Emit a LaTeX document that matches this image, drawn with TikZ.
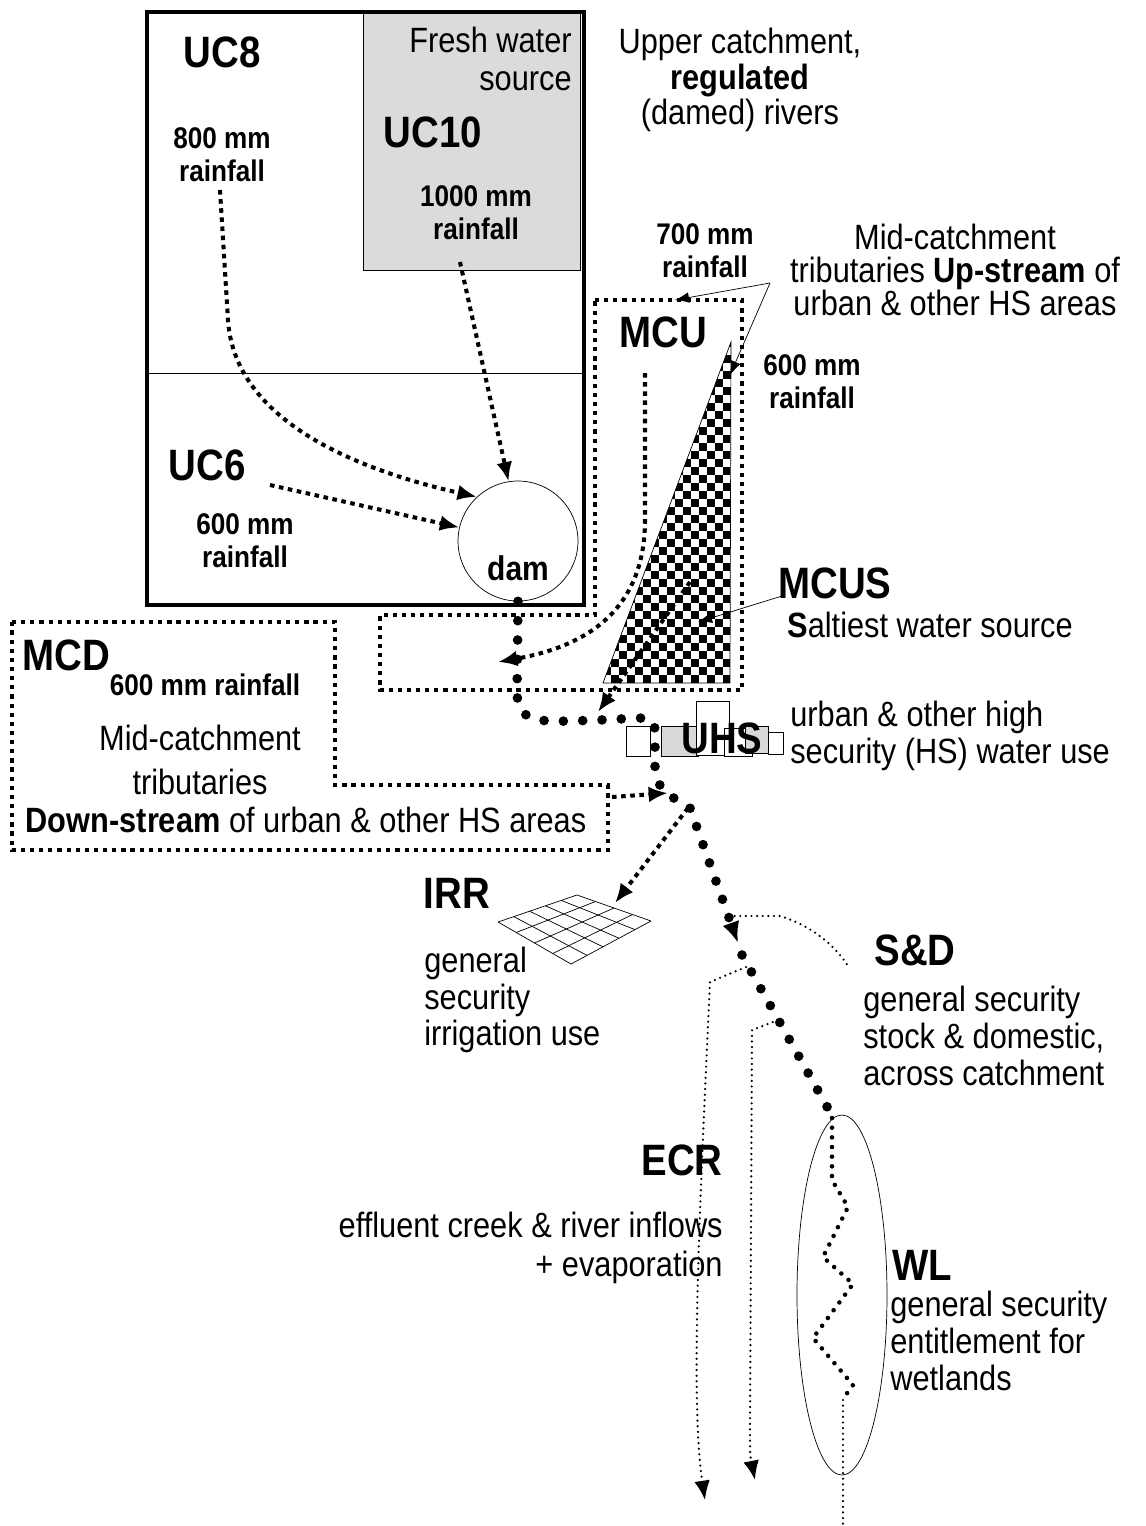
\documentclass[tikz,border=0pt]{standalone}
\usepackage{fontspec}
\setmainfont[FakeStretch=0.875]{Liberation Sans}
\usetikzlibrary{arrows.meta,calc}

\begin{document}
\begin{tikzpicture}[x=0.02cm,y=-0.02cm,
    note/.style={inner sep=0pt, font=\fontsize{20}{21}\selectfont},
    tag/.style={inner sep=0pt, font=\fontsize{25}{28}\selectfont\bfseries},
    rain/.style={inner sep=0pt, align=center, font=\fontsize{17}{19}\selectfont\bfseries},
    flow/.style={line width=2.3pt, dash pattern=on 2.6pt off 2.6pt, -{Latex[length=11pt,width=9pt]}},
    area/.style={line width=2.3pt, dash pattern=on 2.4pt off 2.8pt},
    river/.style={line width=5.5pt, line cap=round, dash pattern=on 0pt off 11pt},
    meander/.style={line width=2.6pt, line cap=round, dash pattern=on 0pt off 5.5pt},
    seep/.style={line width=1.4pt, line cap=round, dash pattern=on 0pt off 3.2pt},
    callout/.style={thin, -{Latex[length=8pt,width=6pt]}},
    block/.style={draw, thin}]
  \useasboundingbox (0,0) rectangle (1146,1526);

  \fill[black!14, draw=black, thin] (363,12) rectangle (580,270);
  \draw[line width=2.3pt] (147,12) rectangle (584,605);
  \draw[thin] (147,373) -- (584,373);

  \draw[area] (595,300) -- (742,300) -- (742,690) -- (380,690) -- (380,615) -- (595,615) -- cycle;
  \draw[area] (12,622) -- (335,622) -- (335,785) -- (608,785) -- (608,850) -- (12,850) -- cycle;

  \begin{scope}
    \clip (603,683) -- (730,683) -- (731,342) -- cycle;
    \foreach \i in {0,...,16}{
      \foreach \j in {0,...,42}{
        \ifodd\numexpr\i+\j\relax
          \fill ({603+8*\i},{683-8*\j}) rectangle ++(8,-8);
        \fi
      }
    }
  \end{scope}
  \draw[thin] (603,683) -- (730,683) -- (731,342) -- cycle;

  \node[note, anchor=east, align=right, font=\fontsize{20}{22}\selectfont] (fresh) at (572,59) {Fresh water\\source};
  \node[tag] (uc8) at (222,52) {UC8};
  \node[rain] (rain8) at (222,155) {800 mm\\rainfall};
  \node[tag] (uc10) at (433,132) {UC10};
  \node[rain] (rain10) at (476,213) {1000 mm\\rainfall};
  \node[tag] (uc6) at (207,465) {UC6};
  \node[rain] (rain6) at (245,541) {600 mm\\rainfall};
  \node[note, align=center, font=\fontsize{20}{20}\selectfont] (upper) at (740,80) {Upper catchment,\\\textbf{regulated}\\(damed) rivers};
  \node[draw, thin, circle, minimum size=2.4cm] (dam) at (518,541) {};
  \node[inner sep=0pt, font=\fontsize{19.5}{22}\selectfont\bfseries] (damtxt) at (518,568) {dam};

  \node[rain] (rain7) at (705,251) {700 mm\\rainfall};
  \node[note, align=center, font=\fontsize{20}{19}\selectfont] (midup) at (955,270) {Mid-catchment\\tributaries \textbf{Up-stream} of\\urban \& other HS areas};
  \node[tag] (mcu) at (663,332) {MCU};
  \node[rain] (rain6b) at (812,382) {600 mm\\rainfall};
  \node[tag] (mcus) at (835,583) {MCUS};
  \node[note] (salt) at (930,625) {\textbf{S}altiest water source};

  \node[tag, anchor=west] (mcd) at (22,655) {MCD};
  \node[rain] (rainmcd) at (205,685) {600 mm rainfall};
  \node[note, align=center, font=\fontsize{20}{25.5}\selectfont] (midtrib) at (200,760) {Mid-catchment\\tributaries};
  \node[note] (down) at (306,820) {\textbf{Down-stream} of urban \& other HS areas};

  \draw[block, fill=white] (626,726) rectangle (650,756);
  \draw[block, fill=black!15] (661,726) rectangle (698,756);
  \draw[block, fill=white] (696,701) rectangle (729,755);
  \draw[block, fill=white] (724,728) rectangle (752,756);
  \draw[block, fill=black!15] (745,726) rectangle (768,753);
  \draw[block, fill=white] (768,732) rectangle (783,754);
  \node[tag] (uhs) at (722,738) {UHS};
  \node[note, anchor=west, align=left] (urban) at (790,736) {urban \& other high\\security (HS) water use};

  \coordinate (irrL) at (498,922);
  \coordinate (irrT) at (577,895);
  \coordinate (irrR) at (651,921);
  \coordinate (irrB) at (571,964);
  \foreach \i in {0,...,5}
    \draw[thin] ($(irrL)!\i/5!(irrT)$) -- ($(irrB)!\i/5!(irrR)$);
  \foreach \j in {0,...,4}
    \draw[thin] ($(irrL)!\j/4!(irrB)$) -- ($(irrT)!\j/4!(irrR)$);
  \node[tag] (irr) at (457,893) {IRR};
  \node[note, anchor=west, align=left] (irrtxt) at (424,1000) {general\\security\\irrigation use};

  \node[tag] (sd) at (915,950) {S\&D};
  \node[note, anchor=west, align=left] (sdtxt) at (863,1036) {general security\\stock \& domestic,\\across catchment};
  \node[tag] (ecr) at (682,1160) {ECR};
  \node[note, anchor=east, align=right, font=\fontsize{20}{22}\selectfont] (ecrtxt) at (723,1248) {effluent creek \& river inflows\\+ evaporation};
  \node[tag] (wl) at (922,1265) {WL};
  \node[note, anchor=west, align=left] (wltxt) at (890,1341) {general security\\entitlement for\\wetlands};
  \draw[thin] (842,1295) ellipse [x radius=45, y radius=180];

  \coordinate (u8s) at (220,190);
  \coordinate (u6s) at (270,485);
  \coordinate (u10s) at (460,262);
  \draw[flow] (u8s) -- (228,320) .. controls (235,430) and (380,475) .. (dam.133);
  \draw[flow] (u6s) -- (dam.167);
  \draw[flow] (u10s) -- (dam.99);

  \coordinate (mcus-src) at (645,373);
  \coordinate (mcu-in) at (498,662);
  \draw[flow] (mcus-src) -- (645,520) .. controls (645,625) and (565,650) .. (mcu-in);
  \coordinate (salt-src) at (690,582);
  \coordinate (salt-in) at (598,712);
  \draw[flow] (salt-src) -- (salt-in);
  \coordinate (mcd-src) at (612,797);
  \coordinate (mcd-in) at (668,793);
  \draw[flow] (mcd-src) -- (mcd-in);
  \coordinate (irr-src) at (688,808);
  \coordinate (irr-in) at (615,903);
  \draw[flow] (irr-src) -- (irr-in);

  \coordinate (tribtip) at (770,283);
  \draw[callout] (tribtip) -- (675,300);
  \draw[callout] (tribtip) -- (730,375);
  \draw[callout] (782,596) -- (698,622);

  \coordinate (riv-mid) at (738,943);
  \draw[river, -{Latex[length=12pt,width=10pt]}] (dam.south) -- (517,695) .. controls (520,725) and (540,722) .. (600,720) -- (640,718)
    .. controls (655,720) .. (655,740) -- (655,770) .. controls (660,790) .. (690,808) -- (riv-mid);
  \draw[river] (742,955) -- (830,1112);
  \draw[meander] (832,1118) -- (832,1180) -- (848,1207) -- (823,1257) -- (853,1284) -- (813,1338) -- (853,1385) -- (845,1396);

  \coordinate (sd-end) at (848,966);
  \draw[seep] (729,916) -- (780,916) .. controls (810,925) and (835,945) .. (sd-end);
  \coordinate (ecr1) at (705,1500);
  \coordinate (ecr2) at (755,1480);
  \draw[seep, -{Latex[length=11pt,width=9pt]}] (746,967) -- (710,982) .. controls (700,1200) and (690,1400) .. (ecr1);
  \draw[seep, -{Latex[length=11pt,width=9pt]}] (778,1020) -- (752,1030) -- (750,1430) .. controls (750,1455) .. (ecr2);
  \draw[seep] (843,1400) -- (843,1526);
\end{tikzpicture}
\end{document}
